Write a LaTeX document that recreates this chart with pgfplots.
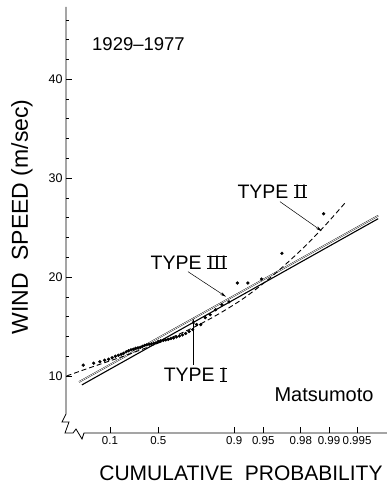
\documentclass[border=0pt]{standalone}
\usepackage{fontspec}
\setmainfont{Liberation Sans}
\usepackage{pgfplots}
\pgfplotsset{compat=1.18}
\usetikzlibrary{arrows.meta}
\newcommand{\fs}[1]{\fontsize{#1}{#1}\selectfont}
\newcommand{\RN}[1]{\setbox0=\hbox{\kern0.8pt #1\kern0.8pt}\rlap{\rule{\wd0}{1pt}}\rlap{\raisebox{\dimexpr\ht0-1pt\relax}{\rule{\wd0}{1pt}}}\box0}
\begin{document}
\begin{tikzpicture}
\useasboundingbox (0pt,0pt) rectangle (387pt,486pt);
\begin{axis}[
  at={(66pt,53pt)}, anchor=south west, scale only axis,
  width=321pt, height=425pt,
  xmin=-1.924, xmax=6.04, ymin=4.24, ymax=47.2,
  axis lines*=left, axis line style={draw=none},
  xtick={-0.834,0.3665,2.250,2.970,3.902,4.600,5.296},
  xticklabels={0.1,0.5,0.9,0.95,0.98,0.99,0.995},
  ytick={10,20,30,40},
  minor ytick={12,14,16,18,22,24,26,28,32,34,36,38,42,44,46},
  tick align=inside, major tick length=6pt, minor tick length=3pt,
  tick style={black, line width=0.7pt},
  /pgf/number format/assume math mode=true,
  xticklabel style={font=\fs{11.5}},
  yticklabel style={font=\fs{12.5}},
  clip=false,
]
% Type III (double line)
\addplot[black, line width=0.4pt, double=white, double distance=0.7pt] coordinates {(-1.60,9.4) (5.82,26.2)};
% Type I (solid)
\addplot[black, line width=1.1pt] coordinates {(-1.53,9.1) (5.82,25.9)};
% Type II (dashed)
\addplot[black, line width=0.9pt, dash pattern=on 5pt off 3pt, smooth] coordinates {
(-1.91,10.0) (-1.5,10.6) (-1.0,11.3) (-0.5,12.0) (0.0,12.75) (0.5,13.55) (1.0,14.45)
(1.5,15.45) (2.0,16.6) (2.5,17.9) (3.0,19.45) (3.5,21.2) (4.0,23.1) (4.5,25.2) (5.0,27.5)};
% annual maxima
\addplot[only marks, mark=*, mark size=1.45pt, black] table {
r s
-1.498 11.1
-1.238 11.3
-1.083 11.45
-0.965 11.6
-0.866 11.7
-0.778 11.85
-0.700 12.0
-0.627 12.1
-0.558 12.2
-0.493 12.3
-0.430 12.45
-0.370 12.55
-0.310 12.65
-0.252 12.7
-0.196 12.8
-0.139 12.85
-0.084 12.9
-0.028 13.0
0.027 13.1
0.083 13.15
0.138 13.2
0.194 13.25
0.251 13.3
0.308 13.35
0.367 13.5
0.426 13.55
0.487 13.6
0.549 13.65
0.612 13.7
0.678 13.8
0.746 13.85
0.816 13.95
0.889 14.05
0.965 14.15
1.045 14.3
1.130 14.5
1.220 14.7
1.316 15.2
1.418 15.2
1.530 15.9
1.653 16.2
1.789 16.7
1.943 17.2
2.120 17.5
2.329 19.4
2.587 19.4
2.928 19.8
3.433 22.4
4.468 26.4
};
\end{axis}
% broken axes
\draw[line width=0.8pt, line join=miter] (66pt,479pt) -- (66pt,72pt) -- (62pt,64pt) -- (69pt,64pt) -- (65pt,53pt) -- (73pt,53pt) -- (76pt,57pt) -- (82pt,47pt) -- (84pt,53pt) -- (387pt,53pt);
% texts
\node[font=\fs{18.5}] at (138.5pt,441.5pt) {1929--1977};
\node[font=\fs{19.5}] at (272.5pt,294.5pt) {TYPE \RN{I\kern1.2pt I}};
\node[font=\fs{19.5}] at (189pt,223.5pt) {TYPE \RN{I\kern1.2pt I\kern1.2pt I}};
\node[font=\fs{19.5}] at (195.5pt,111pt) {TYPE \RN{I}};
\node[font=\fs{20}] at (324pt,91pt) {Matsumoto};
\node[font=\fs{23}, rotate=90] at (22pt,269pt) {WIND\ \ SPEED (m/sec)};
\node[font=\fs{21}] at (241pt,13pt) {CUMULATIVE\ \ PROBABILITY};
% arrows
\draw[-{Stealth[length=6pt,width=3pt]}, line width=0.5pt] (280pt,284.3pt) -- (321.7pt,255pt);
\draw[-{Stealth[length=6pt,width=3pt]}, line width=0.5pt] (188pt,214.3pt) -- (226pt,189.3pt);
\draw[-{Stealth[length=6pt,width=3pt]}, line width=0.5pt] (193.3pt,121pt) -- (193.3pt,167.7pt);
\end{tikzpicture}
\end{document}
